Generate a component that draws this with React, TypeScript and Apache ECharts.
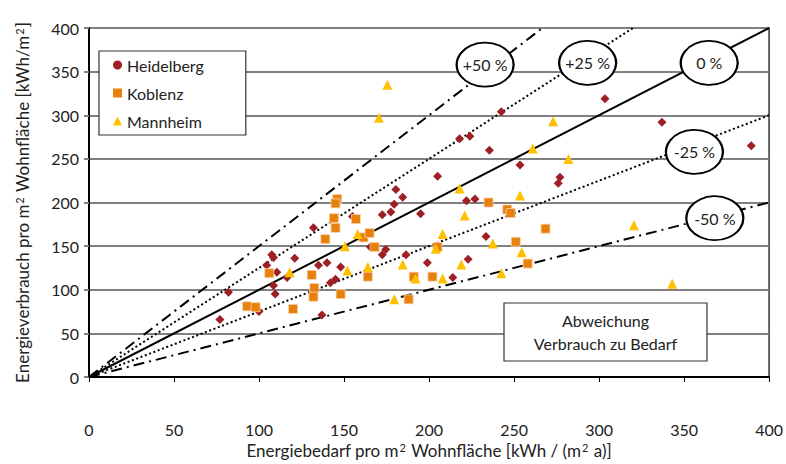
import React, { useEffect, useRef } from "react";
import * as echarts from "echarts";

const FONT = "Lato, 'Open Sans', sans-serif";

const heidelberg: [number, number][] = [
  [77, 66], [82, 97], [100, 75], [104.5, 128], [107.5, 140], [108.5, 137], [110.5, 120],
  [108.5, 105], [109.5, 95], [116.5, 114], [121, 136], [132, 171], [135, 128], [140, 131],
  [148, 126], [142, 108], [145, 112], [137, 71], [155, 184], [165.5, 149], [172.5, 140],
  [174.5, 146], [172.5, 186], [177.5, 189], [179.5, 198], [184.5, 206], [180.5, 215],
  [186.5, 140], [195, 187], [199, 131], [214, 114], [223, 135], [222, 202], [227, 204],
  [233.5, 161], [242.5, 304], [218, 273], [224, 276], [235.5, 260], [205, 230], [253.5, 243],
  [277, 229], [276, 222], [303.5, 319], [337, 292], [389.5, 265],
];

const koblenz: [number, number][] = [
  [93, 81], [98, 80], [106, 119], [120, 78], [146, 204], [145, 199], [144, 182], [145, 171],
  [157, 181], [139, 158], [161.5, 160], [165, 165], [168, 149], [131, 117], [132.5, 102],
  [132, 92], [148, 95], [164, 115], [191, 115], [202, 115], [205, 149], [188, 89], [235, 200],
  [246, 192], [248, 188], [251, 155], [258, 130], [268.5, 170],
];

const mannheim: [number, number][] = [
  [118, 120], [175.5, 335], [170.5, 297], [261, 262], [218, 216], [253.5, 208], [158, 164],
  [150.5, 150], [152, 122], [164, 126], [184.5, 129], [192, 113], [179.5, 89], [208, 164],
  [204, 147], [208, 113], [219, 129], [221, 185], [237.5, 153], [242.5, 119], [254.5, 143],
  [273, 293], [282, 250], [320.5, 174], [343, 107],
];

// deviation lines: factor of Verbrauch / Bedarf
const deviationFactors = [1.5, 1.25, 1.0, 0.75, 0.5];
const deviationLabels = ["+50 %", "+25 %", "0 %", "-25 %", "-50 %"];
// label ellipse positions in data coordinates
const labelPositions: [number, number][] = [
  [233, 358], [293.3, 360], [364.8, 360], [356.1, 258], [368.1, 182],
];

const xTicks = [0, 50, 100, 150, 200, 250, 300, 350, 400];
const AXIS_MAX = 400;

export default function App() {
  const ref = useRef<HTMLDivElement>(null);

  useEffect(() => {
    if (!ref.current) return;
    const chart = echarts.init(ref.current, undefined, { renderer: "svg" });

    const lineStyles: any[] = [
      { type: [11, 5, 2, 5], width: 2, color: "#000" },
      { type: [2, 2.6], width: 2, color: "#000" },
      { type: "solid", width: 2, color: "#000" },
      { type: [2, 2.6], width: 2, color: "#000" },
      { type: [11, 5, 2, 5], width: 2, color: "#000" },
    ];

    const lineSeries = deviationFactors.map((f, i) => {
      const endX = Math.min(AXIS_MAX, AXIS_MAX / f);
      return {
        name: "line" + i,
        type: "line",
        data: [[0, 0], [endX, endX * f]],
        symbol: "none",
        lineStyle: lineStyles[i],
        z: 1,
        silent: true,
      };
    });

    const option: any = {
      animation: false,
      textStyle: { fontFamily: FONT },
      grid: {
        left: 89, right: 11, top: 28, bottom: 85,
        show: true, borderColor: "#333", borderWidth: 1.5,
      },
      legend: {
        orient: "vertical",
        left: 99,
        top: 51,
        data: [
          { name: "Heidelberg", icon: "circle" },
          { name: "Koblenz", icon: "rect", itemStyle: { borderWidth: 0 } },
          { name: "Mannheim", icon: "triangle" },
        ],
        itemWidth: 9,
        itemHeight: 9,
        itemGap: 12,
        padding: [6, 42, 6, 14],
        backgroundColor: "#fff",
        borderColor: "#333",
        borderWidth: 1.2,
        textStyle: { fontSize: 16, color: "#222", fontFamily: FONT },
        selectedMode: false,
      },
      xAxis: {
        type: "value",
        min: 0,
        max: 400,
        interval: 50,
        splitLine: { show: false },
        axisLine: { show: true, lineStyle: { color: "#000", width: 2 } },
        axisTick: { show: true, length: 5, lineStyle: { color: "#000", width: 1 } },
        axisLabel: {
          margin: 44, fontSize: 16, color: "#222", fontFamily: FONT,
          formatter: (v: number) => (xTicks.includes(v) ? String(v) : ""),
        },
        name: "{a|Energiebedarf pro m}{s|2}{a| Wohnfläche [kWh / (m}{s|2}{a| a)]}",
        nameLocation: "middle",
        nameGap: 65,
        nameTextStyle: {
          rich: {
            a: { fontSize: 17, color: "#222", fontFamily: FONT, verticalAlign: "bottom" },
            s: { fontSize: 11, color: "#222", fontFamily: FONT, verticalAlign: "top", padding: [0, 1, 0, 1] },
          },
        },
      },
      yAxis: {
        type: "value",
        min: 0,
        max: 400,
        interval: 50,
        splitLine: { show: true, lineStyle: { color: "#808080", width: 2 } },
        axisLine: { show: true, lineStyle: { color: "#000", width: 2 } },
        axisTick: { show: true, length: 5, lineStyle: { color: "#808080", width: 2 } },
        axisLabel: { margin: 10, fontSize: 16, color: "#222", fontFamily: FONT },
        name: "{a|Energieverbrauch pro m}{s|2}{a| Wohnfläche [kWh/m}{s|2}{a|]}",
        nameLocation: "middle",
        nameGap: 58,
        nameRotate: 90,
        nameTextStyle: {
          rich: {
            a: { fontSize: 17, color: "#222", fontFamily: FONT, verticalAlign: "bottom" },
            s: { fontSize: 11, color: "#222", fontFamily: FONT, verticalAlign: "top", padding: [0, 1, 0, 1] },
          },
        },
      },
      series: [
        ...lineSeries,
        {
          name: "Heidelberg",
          type: "scatter",
          data: heidelberg,
          symbol: "diamond",
          symbolSize: 9,
          itemStyle: { color: "#9e1f24", opacity: 1 },
          z: 3,
        },
        {
          name: "Koblenz",
          type: "scatter",
          data: koblenz,
          symbol: "rect",
          symbolSize: 9,
          itemStyle: { color: "#e8800c", borderColor: "#f8d2ad", borderWidth: 0.8, opacity: 1 },
          z: 3,
        },
        {
          name: "Mannheim",
          type: "scatter",
          data: mannheim,
          symbol: "triangle",
          symbolSize: 10,
          itemStyle: { color: "#ffc000", opacity: 1 },
          z: 3,
        },
        {
          name: "labels",
          type: "scatter",
          data: labelPositions.map((p, i) => ({ value: p, name: deviationLabels[i] })),
          symbol: "circle",
          symbolSize: [57, 44],
          itemStyle: { color: "#fff", borderColor: "#000", borderWidth: 2, opacity: 1 },
          label: {
            show: true,
            position: "inside",
            formatter: (p: any) => p.name,
            fontSize: 16,
            color: "#222",
            fontFamily: FONT,
          },
          z: 4,
          silent: true,
        },
      ],
      graphic: [
        {
          type: "rect",
          shape: { x: 504, y: 303, width: 203, height: 58 },
          style: { fill: "#fff", stroke: "#333", lineWidth: 1.2 },
          z: 5,
        },
        {
          type: "text",
          x: 605.5,
          y: 332,
          style: {
            text: "Abweichung\nVerbrauch zu Bedarf",
            fontSize: 16,
            lineHeight: 23,
            fill: "#222",
            fontFamily: FONT,
            align: "center",
            verticalAlign: "middle",
          },
          z: 6,
        },
      ],
    };

    chart.setOption(option);
    return () => chart.dispose();
  }, []);

  return <div ref={ref} style={{ width: 786, height: 464, position: "absolute", left: 0, top: 0 }} />;
}
